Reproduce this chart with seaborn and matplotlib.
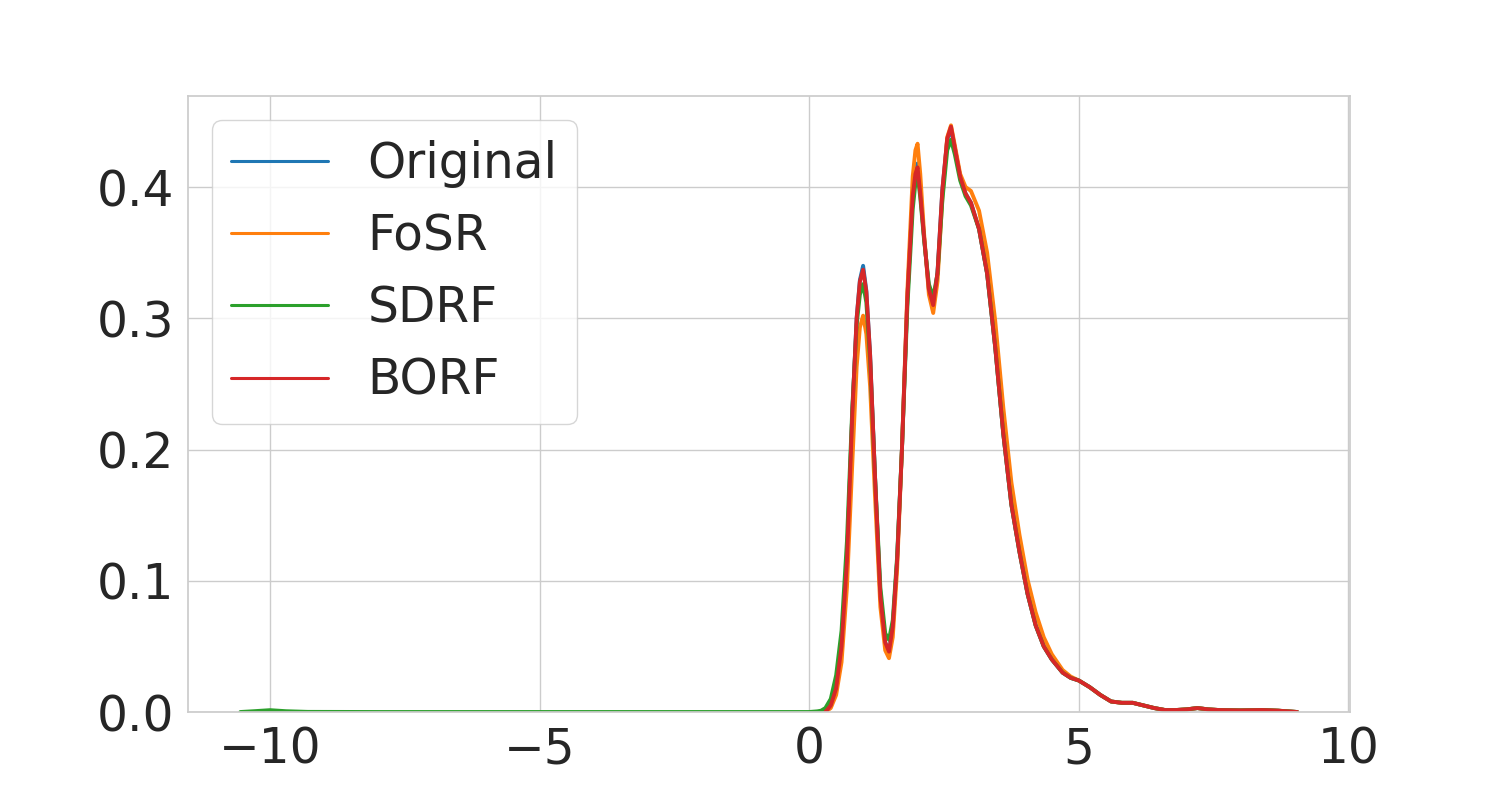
import numpy as np
import pandas as pd
import matplotlib
matplotlib.use("Agg")
import matplotlib.pyplot as plt
import seaborn as sns

# density curves (x grid shared by all methods)
x_grid = [0.30, 0.40, 0.50, 0.60, 0.70, 0.80, 0.88, 0.94, 1.00, 1.06, 1.13, 1.22,
          1.32, 1.41, 1.48, 1.55, 1.63, 1.72, 1.82, 1.92, 1.97, 2.01, 2.06, 2.13,
          2.22, 2.30, 2.38, 2.47, 2.56, 2.63, 2.70, 2.80, 2.90, 3.00,
          3.15, 3.30, 3.45, 3.60, 3.75, 3.90, 4.05, 4.20, 4.35,
          4.50, 4.70, 4.85, 5.00, 5.20, 5.40, 5.60, 5.80, 6.00, 6.20, 6.40, 6.60,
          6.80, 7.00, 7.20, 7.40, 7.60, 8.00, 8.40, 8.70, 9.05]

# shared right tail (x >= 3.15 for Original/SDRF/BORF)
tail = [0.368, 0.334, 0.278, 0.212, 0.158, 0.122, 0.090, 0.066, 0.050,
        0.040, 0.030, 0.026, 0.024, 0.019, 0.013, 0.008, 0.007, 0.007, 0.005, 0.003, 0.0015,
        0.0015, 0.002, 0.003, 0.002, 0.0015, 0.0012, 0.0015, 0.001, 0.0]

original = [0.000, 0.005, 0.018, 0.050, 0.115, 0.228, 0.300, 0.329, 0.340, 0.321, 0.272, 0.180,
            0.088, 0.053, 0.045, 0.065, 0.115, 0.200, 0.315, 0.395, 0.413, 0.418, 0.398, 0.362,
            0.322, 0.308, 0.335, 0.398, 0.436, 0.444, 0.430, 0.408, 0.395, 0.388] + tail

fosr = [0.000, 0.003, 0.013, 0.038, 0.095, 0.190, 0.263, 0.293, 0.302, 0.288, 0.248, 0.165,
        0.080, 0.047, 0.041, 0.057, 0.108, 0.200, 0.320, 0.408, 0.428, 0.433, 0.410, 0.365,
        0.318, 0.304, 0.328, 0.392, 0.438, 0.447, 0.432, 0.410, 0.400, 0.397,
        0.382, 0.350, 0.298, 0.232, 0.175, 0.135, 0.101, 0.076, 0.057,
        0.044, 0.032, 0.027, 0.024, 0.019, 0.013, 0.008, 0.007, 0.007, 0.005, 0.003, 0.0015,
        0.0015, 0.002, 0.003, 0.002, 0.0015, 0.0012, 0.0015, 0.001, 0.0]

sdrf = [0.003, 0.010, 0.028, 0.062, 0.130, 0.232, 0.295, 0.318, 0.326, 0.312, 0.268, 0.180,
        0.095, 0.060, 0.055, 0.070, 0.118, 0.200, 0.308, 0.383, 0.403, 0.410, 0.392, 0.360,
        0.326, 0.316, 0.334, 0.390, 0.428, 0.436, 0.425, 0.405, 0.393, 0.386] + tail

borf = [0.000, 0.005, 0.018, 0.050, 0.115, 0.228, 0.300, 0.328, 0.337, 0.320, 0.272, 0.180,
        0.088, 0.053, 0.046, 0.065, 0.115, 0.200, 0.315, 0.393, 0.410, 0.415, 0.395, 0.362,
        0.322, 0.310, 0.335, 0.398, 0.437, 0.446, 0.430, 0.408, 0.395, 0.388] + tail

# SDRF has a long left tail with a small bump near -10
sdrf_left_x = [-10.55, -10.30, -10.00, -9.70, -9.30, -8.00, -5.00, -2.00, 0.00, 0.15, 0.22]
sdrf_left_y = [0.0, 0.0006, 0.0014, 0.0006, 0.0001, 0.0, 0.0, 0.0, 0.0, 0.0005, 0.001]

methods = ["Original", "FoSR", "SDRF", "BORF"]

frames = []
for name, ys in zip(methods, [original, fosr, sdrf, borf]):
    xs = list(x_grid)
    yy = list(ys)
    if name == "SDRF":
        xs = sdrf_left_x + xs
        yy = sdrf_left_y + yy
    frames.append(pd.DataFrame({"x": xs, "density": yy, "method": name}))
df = pd.concat(frames, ignore_index=True)

sns.set_theme(style="whitegrid")
plt.rcParams['font.family'] = ['DejaVu Sans']

fig, ax = plt.subplots(figsize=(15, 8), dpi=100)
sns.lineplot(data=df, x="x", y="density", hue="method", hue_order=methods,
             palette="tab10", sort=False, errorbar=None, linewidth=2.8, ax=ax)

ax.set_ylim(bottom=0)
ax.set_xlabel("")
ax.set_ylabel("")
ax.tick_params(labelsize=35)
leg = ax.legend(fontsize=35, loc="upper left", title=None)
for line in leg.get_lines():
    line.set_linewidth(2.2)

fig.savefig("out.png", dpi=100)
